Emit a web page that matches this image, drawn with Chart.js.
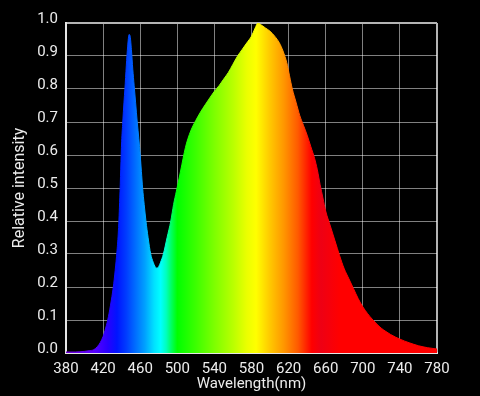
<!DOCTYPE html>
<html>
<head>
<meta charset="utf-8">
<script src="https://cdn.jsdelivr.net/npm/chart.js@4.4.0/dist/chart.umd.min.js"></script>
<style>
html,body{margin:0;padding:0;background:#000;}
#wrap{width:480px;height:396px;position:relative;}
</style>
</head>
<body>
<div id="wrap"><canvas id="c" width="480" height="396"></canvas></div>
<script>
// Wavelengths (nm) and relative intensity
const wavelengths = [380,390,400,405,410,414,417,420,422,425,428,431,433,435,436.5,438,440,441.2,442.5,443.5,445,446.5,448,449,450.5,452,453.5,455,456.8,458.5,460,461.3,462.6,464.3,466.2,468.5,471.3,474,476,478,480,482,485,489,493,496,499,502,505,507.5,510,513,516,520,525,530,535,540,545,550,555,560,565,570,575,580,584,587,590,595,600,605,610,614,618,621,624,628,632,636,640,644,648,651,654,657,660,665,670,675,680,685,690,695,700,705,710,715,720,725,730,740,750,760,770,780];
const intensity = [0.003,0.003,0.005,0.007,0.01,0.02,0.032,0.05,0.068,0.1,0.145,0.2,0.25,0.31,0.37,0.47,0.64,0.70,0.76,0.80,0.87,0.93,0.965,0.962,0.92,0.86,0.81,0.76,0.70,0.65,0.60,0.55,0.50,0.45,0.40,0.35,0.30,0.275,0.262,0.257,0.262,0.275,0.30,0.35,0.40,0.45,0.49,0.53,0.572,0.607,0.636,0.662,0.683,0.705,0.73,0.752,0.773,0.793,0.81,0.83,0.85,0.875,0.90,0.92,0.94,0.96,0.985,1.0,0.995,0.985,0.975,0.96,0.94,0.915,0.88,0.84,0.80,0.76,0.72,0.69,0.66,0.625,0.59,0.555,0.51,0.47,0.43,0.385,0.34,0.295,0.255,0.225,0.195,0.165,0.14,0.12,0.103,0.088,0.075,0.065,0.056,0.042,0.031,0.022,0.016,0.012];
const xTicks = [380,420,460,500,540,580,620,660,700,740,780];
const yTicks = [0.0,0.1,0.2,0.3,0.4,0.5,0.6,0.7,0.8,0.9,1.0];
const xTitle = 'Wavelength(nm)';
const yTitle = 'Relative intensity';

// spectrum colour stops (wavelength -> colour)
const stopNm = [380,410,425,435,445,455,465,475,482,488,494,500,520,540,560,575,585,600,615,630,645,655,675,780];
const stopCol = ['rgb(110,0,210)','rgb(90,0,255)','rgb(40,0,255)','rgb(0,20,255)','rgb(0,60,255)','rgb(0,110,255)','rgb(0,160,255)','rgb(0,225,255)','rgb(0,255,255)','rgb(0,255,190)','rgb(0,255,90)','rgb(0,255,0)','rgb(60,255,0)','rgb(125,255,0)','rgb(185,255,0)','rgb(235,255,0)','rgb(255,255,0)','rgb(255,200,0)','rgb(255,150,0)','rgb(255,90,0)','rgb(255,0,0)','rgb(238,0,20)','rgb(255,0,0)','rgb(255,0,0)'];

const points = wavelengths.map((w,i)=>({x:w,y:intensity[i]}));

function spectrum(context){
  const chart = context.chart;
  const area = chart.chartArea;
  if(!area) return 'rgba(0,0,0,0)';
  const xs = chart.scales.x;
  const g = chart.ctx.createLinearGradient(area.left,0,area.right,0);
  stopNm.forEach((w,i)=>{
    let p = (xs.getPixelForValue(w)-area.left)/(area.right-area.left);
    p = Math.min(1,Math.max(0,p));
    g.addColorStop(p, stopCol[i]);
  });
  return g;
}

const textColor = '#ececec';
const font = {family:'Roboto', size:15};

new Chart(document.getElementById('c'), {
  type:'line',
  data:{datasets:[{
    data:points,
    fill:'origin',
    backgroundColor:spectrum,
    borderColor:spectrum,
    borderWidth:1,
    pointRadius:0,
    cubicInterpolationMode:'monotone'
  }]},
  options:{
    responsive:false,
    devicePixelRatio:1,
    animation:false,
    layout:{padding:{top:23,right:43,left:0,bottom:0}},
    plugins:{legend:{display:false},tooltip:{enabled:false}},
    scales:{
      x:{
        type:'linear', min:380, max:780,
        afterBuildTicks:(s)=>{ s.ticks = xTicks.map(v=>({value:v})); },
        afterFit:(s)=>{ s.height = 43; },
        ticks:{color:textColor, font:font, padding:7, maxRotation:0, autoSkip:false},
        grid:{drawTicks:false, color:(c)=> c.tick && c.tick.value===780 ? '#b4b4b4' : 'rgba(255,255,255,0.5)', lineWidth:(c)=> c.tick && c.tick.value===780 ? 2 : 1},
        border:{color:'#e6e6e6', width:2},
        title:{display:true, text:xTitle, color:textColor, font:font, padding:{top:0,bottom:3}}
      },
      y:{
        type:'linear', min:0, max:1,
        afterBuildTicks:(s)=>{ s.ticks = yTicks.map(v=>({value:v})); },
        afterFit:(s)=>{ s.width = 66; },
        ticks:{color:textColor, font:font, padding:8, labelOffset:-4, callback:(v)=>Number(v).toFixed(1)},
        grid:{drawTicks:false, color:(c)=> c.tick && Math.abs(c.tick.value-1)<1e-9 ? '#b4b4b4' : 'rgba(255,255,255,0.5)', lineWidth:(c)=> c.tick && Math.abs(c.tick.value-1)<1e-9 ? 2 : 1},
        border:{color:'#e6e6e6', width:2},
        title:{display:true, text:yTitle, color:textColor, font:{family:'Roboto', size:16}, padding:{top:10,bottom:0}}
      }
    }
  }
});
</script>
</body>
</html>
